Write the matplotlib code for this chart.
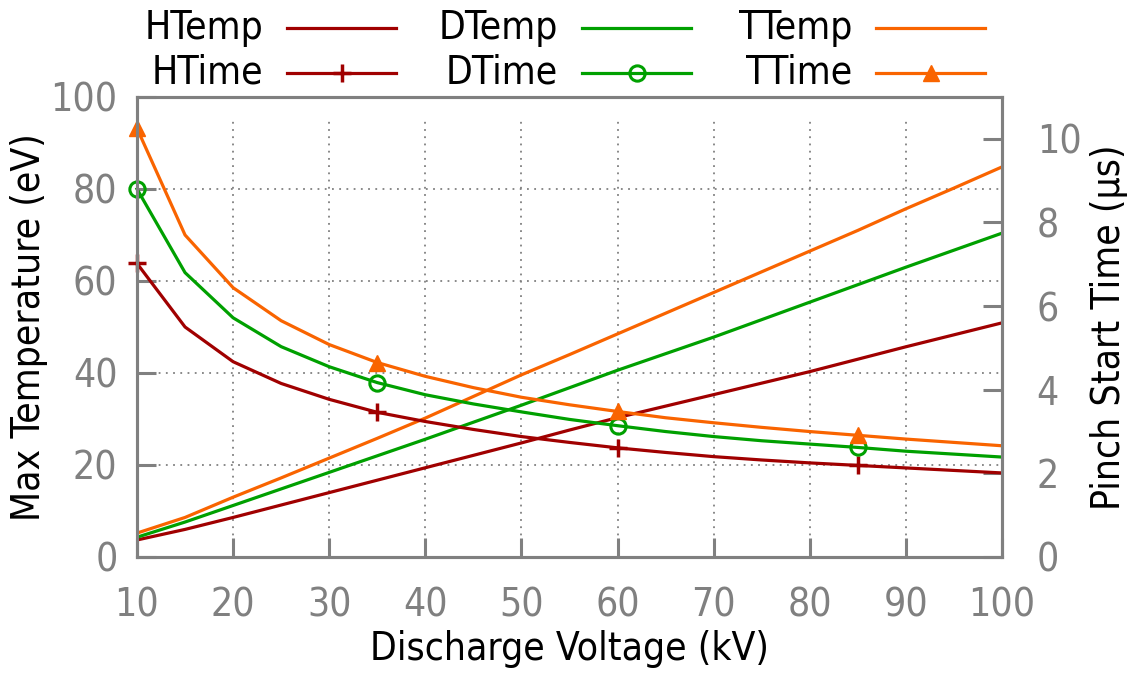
import numpy as np
import matplotlib
matplotlib.use("Agg")
import matplotlib.pyplot as plt
import matplotlib.transforms as mtransforms
from matplotlib.lines import Line2D

# discharge voltage (kV)
voltage = [10, 15, 20, 25, 30, 35, 40, 45, 50, 55, 60, 65, 70, 75, 80, 85, 90, 95, 100]

# max temperature (eV), left axis
h_temp = [3.7, 6.0, 8.6, 11.3, 14.0, 16.7, 19.4, 22.1, 24.8, 27.6, 30.3, 32.8, 35.3, 37.8, 40.3, 43.0, 45.7, 48.3, 50.9]
d_temp = [4.3, 7.6, 11.2, 14.8, 18.4, 22.0, 25.6, 29.3, 33.0, 36.8, 40.6, 44.2, 47.8, 51.6, 55.4, 59.2, 63.0, 66.7, 70.4]
t_temp = [5.2, 8.6, 13.0, 17.2, 21.5, 25.8, 30.2, 34.9, 39.6, 44.0, 48.5, 53.0, 57.5, 62.0, 66.5, 71.0, 75.7, 80.2, 84.8]

# pinch start time (us), right axis
h_time = [7.02, 5.50, 4.67, 4.15, 3.77, 3.46, 3.24, 3.05, 2.88, 2.74, 2.61, 2.50, 2.40, 2.32, 2.25, 2.19, 2.13, 2.07, 2.01]
d_time = [8.80, 6.80, 5.72, 5.03, 4.55, 4.17, 3.88, 3.66, 3.47, 3.29, 3.14, 3.00, 2.88, 2.78, 2.70, 2.62, 2.53, 2.46, 2.39]
t_time = [10.25, 7.70, 6.44, 5.65, 5.08, 4.65, 4.32, 4.05, 3.82, 3.64, 3.48, 3.33, 3.21, 3.10, 3.00, 2.91, 2.82, 2.74, 2.66]

x_ticks = [10, 20, 30, 40, 50, 60, 70, 80, 90, 100]
y1_ticks = [0, 20, 40, 60, 80, 100]
y2_ticks = [0, 2, 4, 6, 8, 10]

red = '#a00000'
green = '#00a000'
orange = '#f96400'
frame_col = '#808080'

plt.rcParams['font.family'] = ['DejaVu Sans']
plt.rcParams['font.stretch'] = 'condensed'
fs = 28
lw = 2.3

W, H = 1135, 677
fig = plt.figure(figsize=(W / 100, H / 100), dpi=100)
ax = fig.add_axes([137 / W, 1 - 557 / H, 865 / W, 460 / H])
ax2 = ax.twinx()

ax.plot(voltage, h_temp, color=red, lw=lw)
ax.plot(voltage, d_temp, color=green, lw=lw)
ax.plot(voltage, t_temp, color=orange, lw=lw)

mk_h = dict(marker='+', ms=13, mew=2.5)
mk_d = dict(marker='o', ms=11, mew=2.2, mfc='none')
mk_t = dict(marker='^', ms=12)
ax2.plot(voltage, h_time, color=red, lw=lw, markevery=5, clip_on=False, **mk_h)
ax2.plot(voltage, d_time, color=green, lw=lw, markevery=5, clip_on=False, **mk_d)
ax2.plot(voltage, t_time, color=orange, lw=lw, markevery=5, clip_on=False, **mk_t)

ax.set_xlim(10, 100)
ax.set_ylim(0, 100)
ax2.set_ylim(0, 11)
ax.set_xticks(x_ticks)
ax.set_yticks(y1_ticks)
ax2.set_yticks(y2_ticks)

# grid: horizontal from left axis, vertical stops short of the top border
for v in y1_ticks[1:-1]:
    ax.axhline(v, color=frame_col, lw=1.3, ls=(0, (1, 3)), zorder=0)
trans = mtransforms.blended_transform_factory(ax.transData, ax.transAxes)
ax.vlines(x_ticks[1:-1], 0, 0.947, transform=trans, color=frame_col, lw=1.3, ls=(0, (1, 3)), zorder=0)

for a in (ax, ax2):
    for s in a.spines.values():
        s.set_color(frame_col)
        s.set_linewidth(2.2)
ax.tick_params(axis='both', direction='in', length=14, width=2.2, color=frame_col,
               labelcolor=frame_col, labelsize=fs, pad=14, right=False, top=False)
ax.tick_params(axis='x', pad=21)
ax2.tick_params(axis='y', direction='in', length=14, width=2.2, color=frame_col,
                labelcolor=frame_col, labelsize=fs, pad=25)

ax.set_xlabel('Discharge Voltage (kV)', fontsize=fs, labelpad=4)
ax.set_ylabel('Max Temperature (eV)', fontsize=fs, labelpad=2)
ax2.set_ylabel('Pinch Start Time (μs)', fontsize=fs, labelpad=6)

# legend: 3 columns, right-aligned text followed by line sample
labels = [['HTemp', 'HTime'], ['DTemp', 'DTime'], ['TTemp', 'TTime']]
colors = [red, green, orange]
markers = [mk_h, mk_d, mk_t]
text_right = [263, 558, 852]
rows_y = [28, 73]
for c in range(3):
    for r in range(2):
        y = 1 - rows_y[r] / H
        fig.text(text_right[c] / W, y, labels[c][r], fontsize=fs, ha='right', va='center')
        x0 = (text_right[c] + 24) / W
        x1 = (text_right[c] + 133) / W
        fig.add_artist(Line2D([x0, x1], [y, y], transform=fig.transFigure, color=colors[c], lw=lw))
        if r == 1:
            fig.add_artist(Line2D([(x0 + x1) / 2], [y], transform=fig.transFigure,
                                  color=colors[c], lw=0, **markers[c]))

fig.savefig('out.png', dpi=100)
